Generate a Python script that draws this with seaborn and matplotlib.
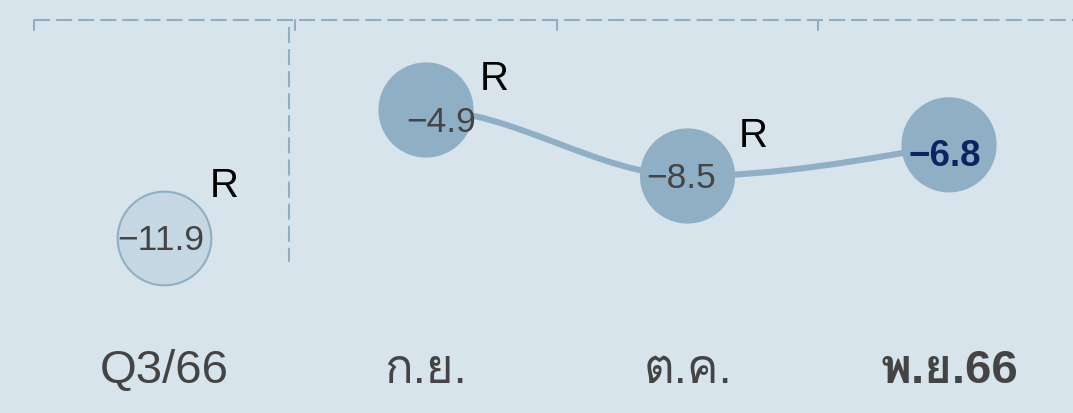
import numpy as np
import pandas as pd
import seaborn as sns
import matplotlib
matplotlib.use("Agg")
from matplotlib import pyplot as plt
from matplotlib import font_manager
from matplotlib.ft2font import FT2Font
from matplotlib.path import Path
from matplotlib.patches import PathPatch

# data
periods = ["Q3/66", "ก.ย.", "ต.ค.", "พ.ย.66"]
values = [-11.9, -4.9, -8.5, -6.8]
kinds = ["quarter", "month", "month", "month"]
revised = [True, True, True, False]

# styling
BG = "#d8e4ec"
MID = "#8fb0c4"
LIGHT = "#c5d7e3"
TXT = "#444444"
NAVY = "#0c2461"
value_off = [(-4, -1), (15, -11), (-6, -2), (-4, -11)]   # pixels
r_off = [(60, 53), (68, 32), (66, 41), (0, 0)]


def find_thai_family():
    # look for any installed font that can draw Thai
    for f in font_manager.fontManager.ttflist:
        try:
            if FT2Font(f.fname).get_char_index(ord("ก")):
                return f.name
        except Exception:
            pass
    return None


sns.set_style("white")
thai = find_thai_family()
fams = ["Liberation Sans"] + ([thai] if thai else []) + ["DejaVu Sans"]
plt.rcParams["font.family"] = fams

df = pd.DataFrame({"pos": np.arange(len(periods)), "period": periods,
                   "value": values, "kind": kinds})

fig = plt.figure(figsize=(10.73, 4.14), dpi=100, facecolor=BG)
ax = fig.add_axes([0, 0, 1, 1])
ax.set_facecolor(BG)

# top dashed rule with little ticks at the column borders
xt = ax.get_xaxis_transform()
ax.plot([-0.5, 3.6], [0.9483, 0.9483], transform=xt, color=MID, lw=1.5,
        ls=(0, (7.7, 2.9)), clip_on=False)
for b in np.arange(len(periods)) - 0.5:
    ax.plot([b, b], [0.9483, 0.924], transform=xt, color=MID, lw=1.5)
# divider between quarter and months
ax.plot([0.476, 0.476], [0.932, 0.365], transform=xt, color=MID, lw=1.5,
        ls=(0, (7.7, 2.9)))

# smooth line through the monthly points (flat start, monotone after)
m = df[df.kind == "month"]
xs = m.pos.to_numpy(float)
ys = m.value.to_numpy(float)
s = np.diff(ys) / np.diff(xs)
t = np.zeros(len(xs))
for i in range(1, len(xs) - 1):
    if s[i - 1] * s[i] > 0:
        t[i] = np.sign(s[i]) * min(abs(s[i - 1]), abs(s[i]))
t[-1] = (3 * s[-1] - t[-2]) / 2
verts = [(xs[0], ys[0])]
codes = [Path.MOVETO]
for i in range(len(xs) - 1):
    dx = (xs[i + 1] - xs[i]) / 3
    verts += [(xs[i] + dx, ys[i] + dx * t[i]),
              (xs[i + 1] - dx, ys[i + 1] - dx * t[i + 1]),
              (xs[i + 1], ys[i + 1])]
    codes += [Path.CURVE4] * 3
ax.add_patch(PathPatch(Path(verts, codes), fill=False, edgecolor=MID,
                       lw=4.4, capstyle="round", zorder=2))

# bubbles
q = df[df.kind == "quarter"]
sns.scatterplot(data=q, x="pos", y="value", s=4550, color=LIGHT,
                edgecolor=MID, linewidth=1.5, ax=ax, zorder=3, legend=False)
sns.scatterplot(data=m, x="pos", y="value", s=4700, color=MID,
                edgecolor="none", linewidth=0, ax=ax, zorder=3, legend=False)
ax.set_xlim(-0.629, 3.474)
ax.set_ylim(-21.43, 1.156)
ax.axis("off")

last = len(periods) - 1
for i, (p, v) in enumerate(zip(periods, values)):
    bold = i == last
    ax.annotate(f"{v:.1f}".replace("-", "−"), (i, v), xytext=value_off[i],
                textcoords="offset pixels", ha="center", va="center",
                fontsize=26.5 if bold else 25.5, color=NAVY if bold else TXT,
                fontweight="bold" if bold else "normal", zorder=4)
    if revised[i]:
        ax.annotate("R", (i, v), xytext=r_off[i], textcoords="offset pixels",
                    ha="center", va="center", fontsize=29, color="black",
                    zorder=4)
    ax.text(i, 0.103, p, transform=xt, ha="center", va="center",
            fontsize=34, color=TXT, fontweight="bold" if bold else "normal")

fig.savefig("out.png", dpi=100, facecolor=BG)
